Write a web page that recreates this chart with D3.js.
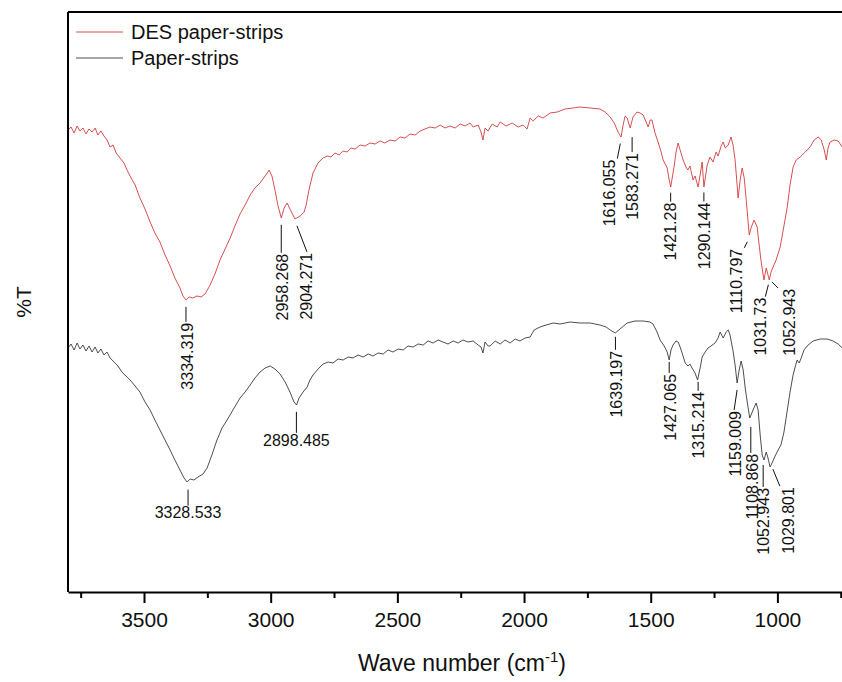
<!DOCTYPE html>
<html>
<head>
<meta charset="utf-8">
<script src="https://cdn.jsdelivr.net/npm/d3@7"></script>
<style>
  body { margin: 0; background: #fff; }
  svg { display: block; font-family: Arial, "Liberation Sans", sans-serif; }
</style>
</head>
<body>
<svg id="chart" width="842" height="682"></svg>
<script>
// FTIR spectra: [wavenumber (cm-1), transmittance (%T, offset for stacking)]
const desSpectrum = [
  [3800,76.4],[3788,77.0],[3776,75.8],[3764,77.2],[3753,76.2],[3741,76.8],[3729,75.6],[3717,76.6],
  [3705,76.0],[3693,76.8],[3682,75.4],[3670,76.2],[3658,75.2],[3646,74.4],[3634,73.0],[3622,73.4],
  [3610,71.8],[3595,70.8],[3579,69.8],[3567,68.4],[3551,66.8],[3535,65.4],[3516,62.8],[3496,60.6],
  [3476,58.0],[3457,55.8],[3437,54.0],[3417,51.4],[3397,49.2],[3378,46.8],[3358,44.8],[3346,43.2],
  [3334,42.4],[3322,43.0],[3307,42.8],[3291,43.2],[3275,43.0],[3259,43.6],[3239,45.4],[3220,47.6],
  [3200,50.4],[3180,52.6],[3160,54.8],[3141,57.2],[3121,59.6],[3101,61.4],[3081,63.4],[3062,64.8],
  [3042,65.8],[3022,67.2],[3006,68.4],[2995,67.2],[2983,64.4],[2971,61.2],[2958,58.8],[2947,60.8],
  [2935,61.8],[2924,60.6],[2912,59.4],[2904,58.6],[2884,59.2],[2868,60.0],[2860,61.4],[2849,64.4],
  [2833,67.8],[2813,69.8],[2793,70.8],[2777,71.2],[2762,71.0],[2746,71.8],[2730,71.4],[2714,72.2],
  [2698,72.0],[2683,72.8],[2667,72.6],[2647,73.4],[2627,73.2],[2608,73.8],[2588,73.6],[2568,74.2],
  [2549,73.8],[2529,74.4],[2509,74.2],[2489,75.0],[2470,74.8],[2450,75.6],[2430,75.4],[2410,76.2],
  [2391,76.6],[2371,77.0],[2351,76.8],[2331,77.4],[2312,76.8],[2292,77.2],[2272,76.8],[2252,77.6],
  [2233,77.2],[2213,77.8],[2201,77.0],[2181,77.4],[2170,76.0],[2162,74.4],[2154,76.8],[2142,76.2],
  [2126,77.6],[2106,77.0],[2094,78.0],[2071,77.2],[2047,77.8],[2023,77.0],[2004,77.4],[1988,76.6],
  [1976,78.8],[1964,78.2],[1944,79.2],[1925,78.8],[1897,79.8],[1869,80.0],[1838,80.6],[1806,80.8],
  [1779,81.0],[1739,80.8],[1700,80.6],[1680,80.0],[1660,79.0],[1644,77.8],[1629,76.0],[1617,75.0],
  [1609,77.4],[1601,79.2],[1593,78.8],[1581,76.8],[1570,79.0],[1554,80.0],[1542,79.8],[1530,79.4],
  [1518,78.0],[1510,77.0],[1502,78.4],[1495,78.4],[1483,75.8],[1471,74.0],[1459,72.0],[1451,70.4],
  [1435,68.8],[1427,66.4],[1421,65.0],[1408,69.0],[1400,72.0],[1392,73.8],[1384,72.4],[1372,70.4],
  [1361,69.0],[1353,68.4],[1345,69.2],[1333,66.4],[1325,67.2],[1313,65.0],[1305,67.4],[1297,70.0],
  [1290,65.0],[1277,69.4],[1266,71.0],[1254,70.0],[1242,72.0],[1234,71.2],[1222,73.2],[1214,74.0],
  [1206,72.8],[1194,73.4],[1183,75.0],[1175,73.4],[1167,70.4],[1159,65.4],[1155,62.8],[1147,66.4],
  [1139,68.8],[1131,66.8],[1123,62.4],[1111,55.4],[1104,56.8],[1092,58.4],[1080,57.0],[1072,53.4],
  [1064,50.0],[1053,46.4],[1044,48.8],[1032,46.4],[1025,48.0],[1017,49.0],[1005,50.4],[989,53.0],
  [977,56.4],[961,61.0],[950,65.4],[938,69.0],[926,70.4],[910,71.0],[890,72.0],[871,73.0],
  [855,74.4],[839,75.0],[827,74.4],[815,72.4],[807,70.4],[800,72.8],[792,74.0],[776,74.4],
  [760,74.2],[744,73.0]
];

const paperSpectrum = [
  [3800,32.8],[3788,33.6],[3776,32.4],[3764,33.8],[3753,32.6],[3741,33.4],[3729,32.2],[3717,33.2],
  [3705,32.0],[3693,33.0],[3682,31.8],[3670,32.6],[3658,31.4],[3646,32.0],[3634,30.8],[3618,30.0],
  [3603,29.2],[3587,28.0],[3571,27.2],[3555,26.4],[3535,25.2],[3516,24.0],[3496,22.0],[3476,20.4],
  [3457,18.4],[3437,16.4],[3417,14.4],[3397,12.4],[3378,10.4],[3358,8.4],[3342,6.8],[3330,6.0],
  [3318,6.6],[3303,6.4],[3287,7.0],[3267,7.6],[3251,8.8],[3232,11.4],[3212,14.4],[3192,16.8],
  [3172,18.4],[3149,20.4],[3121,22.8],[3101,24.0],[3081,25.4],[3062,26.8],[3042,28.0],[3022,28.8],
  [3002,29.2],[2983,28.6],[2963,27.6],[2943,26.0],[2924,24.0],[2908,22.0],[2898,21.4],[2888,22.8],
  [2872,24.0],[2856,25.0],[2845,26.4],[2833,27.4],[2813,28.6],[2793,29.6],[2773,30.0],[2754,29.8],
  [2734,30.6],[2714,30.4],[2694,31.0],[2675,30.8],[2655,31.4],[2635,31.0],[2615,31.6],[2596,31.2],
  [2576,31.8],[2556,31.6],[2537,32.4],[2517,32.0],[2497,32.6],[2477,32.4],[2458,33.2],[2438,33.0],
  [2418,33.6],[2398,33.4],[2379,34.2],[2359,33.8],[2339,34.4],[2320,34.0],[2300,33.6],[2280,34.2],
  [2260,33.8],[2241,34.4],[2221,34.0],[2201,34.2],[2181,33.4],[2170,33.0],[2162,31.8],[2154,34.0],
  [2142,33.2],[2134,33.2],[2114,34.2],[2094,33.6],[2075,34.4],[2055,33.8],[2035,34.6],[2016,34.2],
  [1996,34.8],[1976,35.0],[1960,36.4],[1937,37.0],[1913,37.4],[1885,37.8],[1858,37.6],[1818,38.0],
  [1779,37.8],[1739,37.8],[1700,37.4],[1676,37.0],[1660,36.4],[1640,35.8],[1621,36.6],[1593,37.8],
  [1562,38.2],[1530,38.2],[1503,38.0],[1491,37.6],[1475,36.0],[1463,34.4],[1447,33.2],[1435,32.0],
  [1427,30.4],[1420,32.4],[1412,33.4],[1400,34.2],[1392,34.0],[1384,33.0],[1376,31.8],[1364,29.8],
  [1353,29.2],[1345,29.6],[1337,28.8],[1325,27.8],[1315,26.4],[1305,28.8],[1297,31.0],[1285,32.0],
  [1274,32.8],[1262,33.2],[1246,33.8],[1234,34.8],[1226,36.0],[1218,35.2],[1214,34.8],[1202,36.0],
  [1194,36.4],[1187,35.4],[1175,32.2],[1167,29.4],[1159,25.8],[1151,28.4],[1143,30.2],[1135,28.4],
  [1127,24.8],[1119,22.0],[1109,18.8],[1096,20.4],[1084,21.8],[1076,20.4],[1068,15.4],[1060,11.4],
  [1053,10.4],[1044,12.0],[1037,10.8],[1029,9.0],[1021,9.8],[1009,11.2],[997,12.4],[986,13.4],
  [974,16.0],[962,20.0],[950,24.0],[938,27.4],[930,29.0],[922,30.4],[914,29.8],[906,30.8],
  [895,32.4],[879,33.4],[859,34.2],[831,34.6],[804,34.6],[780,34.2],[760,33.6],[744,32.8]
];

// Assigned band positions (cm-1)
const desPeaks = [3334.319, 2958.268, 2904.271, 1616.055, 1583.271, 1421.28, 1290.144, 1110.797, 1031.73, 1052.943];
const paperPeaks = [3328.533, 2898.485, 1639.197, 1427.065, 1315.214, 1159.009, 1108.868, 1052.943, 1029.801];

const seriesNames = ["DES paper-strips", "Paper-strips"];
const majorTicks = [3500, 3000, 2500, 2000, 1500, 1000];
const minorTicks = [3750, 3250, 2750, 2250, 1750, 1250, 750];

// Leader-line / label placement for each band (pixels, relative to the trough)
const desLabelLayout = [
  {gap: 7, len: 15, dx0: 0, dx1: 0, tdx: 1},
  {gap: 7, len: 28, dx0: 0, dx1: 0, tdx: 1},
  {gap: 7, len: 26, dx0: 2, dx1: 12, tdx: -1},
  {gap: 8, len: 15, dx0: -1, dx1: -4, tdx: -8},
  {gap: 11, len: 15, dx0: 2.5, dx1: 2.5, tdx: 0},
  {gap: 6, len: 9, dx0: 0, dx1: 0, tdx: 0},
  {gap: 6, len: 9, dx0: 0, dx1: 0, tdx: 0},
  {gap: 7, len: 6, dx0: -2, dx1: -5, tdx: -8},
  {gap: 5, len: 12, dx0: -1, dx1: -4, tdx: -5},
  {gap: 2, len: 6, dx0: 8, dx1: 14, tdx: 11}
];
const paperLabelLayout = [
  {gap: 8, len: 16, dx0: 0.6, dx1: 0.6, tdx: 0, flat: true},
  {gap: 7, len: 21, dx0: 0, dx1: 0, tdx: 0, flat: true},
  {gap: 4, len: 13, dx0: 0, dx1: 0, tdx: 1},
  {gap: 2, len: 11, dx0: 0, dx1: 0, tdx: 1},
  {gap: 2, len: 9, dx0: 0.6, dx1: 0.6, tdx: 0},
  {gap: 7, len: 20, dx0: 0, dx1: -3, tdx: 1},
  {gap: 9, len: 26, dx0: 1, dx1: 1, tdx: 1},
  {gap: 5, len: 22, dx0: -0.8, dx1: -0.8, tdx: 0},
  {gap: 3, len: 17, dx0: 3, dx1: 10, tdx: 8}
];

const colors = {des: "#d23c3c", paper: "#3a3a3a"};

const svg = d3.select("#chart");
const plot = {left: 68, right: 842, top: 12, bottom: 592};

const x = d3.scaleLinear().domain([3800, 745]).range([plot.left, plot.right]);
const y = d3.scaleLinear().domain([-16, 100]).range([plot.bottom, plot.top]);

svg.append("defs").append("clipPath").attr("id", "plot-clip")
  .append("rect")
  .attr("x", plot.left).attr("y", plot.top)
  .attr("width", plot.right - plot.left).attr("height", plot.bottom - plot.top);

const line = d3.line().x(d => x(d[0])).y(d => y(d[1]));

const curves = svg.append("g").attr("clip-path", "url(#plot-clip)");
curves.append("path").datum(desSpectrum)
  .attr("d", line).attr("fill", "none")
  .attr("stroke", colors.des).attr("stroke-width", 0.9).attr("stroke-linejoin", "round");
curves.append("path").datum(paperSpectrum)
  .attr("d", line).attr("fill", "none")
  .attr("stroke", colors.paper).attr("stroke-width", 0.9).attr("stroke-linejoin", "round");

// Transmittance at a given wavenumber (linear interpolation, data sorted high -> low)
function valueAt(series, wn) {
  for (let i = 0; i < series.length - 1; i++) {
    const a = series[i], b = series[i + 1];
    if (wn <= a[0] && wn >= b[0]) {
      const t = (a[0] - wn) / (a[0] - b[0]);
      return a[1] + t * (b[1] - a[1]);
    }
  }
  return series[series.length - 1][1];
}

function annotate(series, peaks, layout) {
  const g = svg.append("g");
  peaks.forEach((wn, i) => {
    const L = layout[i];
    const ax = x(wn), ay = y(valueAt(series, wn));
    const y0 = ay + L.gap, y1 = ay + L.gap + L.len;
    g.append("line")
      .attr("x1", ax + L.dx0).attr("y1", y0)
      .attr("x2", ax + L.dx1).attr("y2", y1)
      .attr("stroke", "#111").attr("stroke-width", 1);
    const tx = ax + L.dx1 + L.tdx, ty = y1 + 1;
    if (L.flat) {
      g.append("text")
        .attr("x", tx).attr("y", ty).attr("dy", "0.74em")
        .attr("text-anchor", "middle")
        .attr("font-size", 16).attr("fill", "#111")
        .text(String(wn));
    } else {
      g.append("text")
        .attr("transform", `translate(${tx},${ty}) rotate(-90)`)
        .attr("dy", "0.36em")
        .attr("text-anchor", "end")
        .attr("font-size", 16).attr("fill", "#111")
        .text(String(wn));
    }
  });
}
annotate(desSpectrum, desPeaks, desLabelLayout);
annotate(paperSpectrum, paperPeaks, paperLabelLayout);

// Frame: top and left edges
svg.append("line")
  .attr("x1", plot.left).attr("y1", plot.top).attr("x2", plot.right).attr("y2", plot.top)
  .attr("stroke", "#000").attr("stroke-width", 2);
svg.append("line")
  .attr("x1", plot.left).attr("y1", plot.top).attr("x2", plot.left).attr("y2", plot.bottom)
  .attr("stroke", "#000").attr("stroke-width", 2);

// Bottom axis with major and minor ticks
const minorAxis = svg.append("g")
  .attr("transform", `translate(0,${plot.bottom})`)
  .call(d3.axisBottom(x).tickValues(minorTicks).tickSize(6).tickSizeOuter(0).tickFormat(""));
minorAxis.select(".domain").remove();
minorAxis.selectAll(".tick line").attr("stroke", "#000").attr("stroke-width", 2);

const majorAxis = svg.append("g")
  .attr("transform", `translate(0,${plot.bottom})`)
  .call(d3.axisBottom(x).tickValues(majorTicks).tickSize(11).tickSizeOuter(0)
    .tickPadding(9).tickFormat(d3.format("d")));
majorAxis.select(".domain").attr("stroke", "#000").attr("stroke-width", 2);
majorAxis.selectAll(".tick line").attr("stroke", "#000").attr("stroke-width", 2);
majorAxis.selectAll(".tick text")
  .attr("font-family", "Arial, 'Liberation Sans', sans-serif")
  .attr("font-size", 21).attr("fill", "#111");

// Axis titles
const xTitle = svg.append("text")
  .attr("x", 462).attr("y", 671)
  .attr("text-anchor", "middle")
  .attr("font-size", 23).attr("fill", "#111");
xTitle.append("tspan").text("Wave number (cm");
xTitle.append("tspan").attr("dy", -9).attr("font-size", 15).text("-1");
xTitle.append("tspan").attr("dy", 9).text(")");

svg.append("text")
  .attr("transform", "translate(23,302) rotate(-90)")
  .attr("dy", "0.36em")
  .attr("text-anchor", "middle")
  .attr("font-size", 21).attr("fill", "#111")
  .text("%T");

// Legend
const legend = svg.append("g");
[colors.des, colors.paper].forEach((c, i) => {
  const ly = 32 + i * 26;
  legend.append("line")
    .attr("x1", 76).attr("x2", 123).attr("y1", ly).attr("y2", ly)
    .attr("stroke", c).attr("stroke-width", 0.9);
  legend.append("text")
    .attr("x", 131).attr("y", ly).attr("dy", "0.36em")
    .attr("font-size", 20).attr("fill", "#111")
    .text(seriesNames[i]);
});
</script>
</body>
</html>
